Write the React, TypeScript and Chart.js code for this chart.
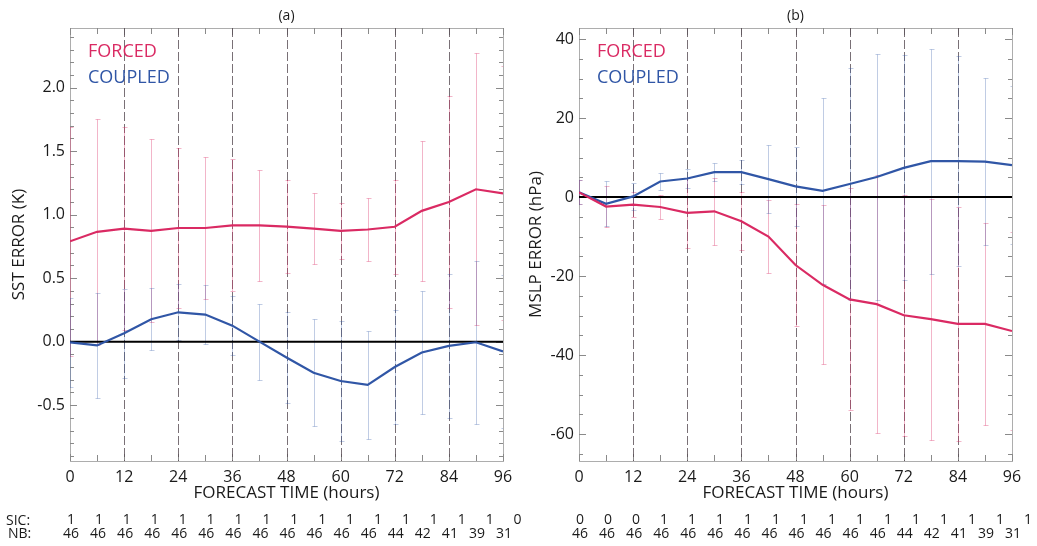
import React, { useEffect, useRef } from 'react';
import { Chart, registerables } from 'chart.js';
Chart.register(...registerables);

// ---------------- data ----------------
const hours = [0, 6, 12, 18, 24, 30, 36, 42, 48, 54, 60, 66, 72, 78, 84, 90, 96];
const xTickValues = [0, 12, 24, 36, 48, 60, 72, 84, 96];
const dashedHours = [12, 24, 36, 48, 60, 72, 84];

const sstTicks = [-0.5, 0, 0.5, 1.0, 1.5, 2.0];
const mslpTicks = [-60, -40, -20, 0, 20, 40];

const sstForced = [0.79, 0.865, 0.89, 0.873, 0.895, 0.895, 0.915, 0.915, 0.905, 0.89, 0.873, 0.883, 0.905, 1.03, 1.1, 1.2, 1.167];
const sstForcedErr = [0.9, 0.89, 0.8, 0.72, 0.63, 0.56, 0.52, 0.44, 0.365, 0.28, 0.22, 0.25, 0.37, 0.55, 0.835, 1.07, 1.0];
const sstCoupled = [-0.005, -0.03, 0.066, 0.176, 0.231, 0.213, 0.126, 0.0, -0.125, -0.245, -0.31, -0.34, -0.2, -0.085, -0.034, -0.005, -0.077];
const sstCoupledErr = [0.35, 0.41, 0.35, 0.245, 0.22, 0.23, 0.235, 0.3, 0.36, 0.42, 0.47, 0.425, 0.45, 0.485, 0.57, 0.64, 0.6];

const mslpForced = [1.2, -2.4, -1.9, -2.5, -4.0, -3.6, -6.1, -10.0, -17.2, -22.2, -25.9, -27.1, -29.9, -30.9, -32.1, -32.1, -33.9];
const mslpForcedErr = [3, 5.1, 3.2, 3.1, 8.8, 8.4, 7.4, 9.3, 15.4, 20.1, 28.1, 32.6, 30.5, 30.5, 29.6, 25.5, 25];
const mslpCoupled = [1.2, -1.7, 0.17, 3.96, 4.7, 6.3, 6.3, 4.55, 2.7, 1.6, 3.3, 5.1, 7.4, 9.1, 9.1, 9.0, 8.1];
const mslpCoupledErr = [3, 5.7, 3.5, 2.2, 2.4, 2.3, 3.1, 8.6, 10, 23.5, 29.4, 31.2, 28.5, 28.5, 26.5, 21.2, 20];

const sicA = [1, 1, 1, 1, 1, 1, 1, 1, 1, 1, 1, 1, 1, 1, 1, 1, 0];
const sicB = [0, 0, 0, 1, 1, 1, 1, 1, 1, 1, 1, 1, 1, 1, 1, 1, 1];
const nbCounts = [46, 46, 46, 46, 46, 46, 46, 46, 46, 46, 46, 46, 44, 42, 41, 39, 31];

// ---------------- styles ----------------
const FONT = "'Open Sans', 'DejaVu Sans', sans-serif";
const FORCED_COLOR = '#DA2A63';
const COUPLED_COLOR = '#3056A6';
const FORCED_ERR = 'rgba(218,42,99,0.35)';
const COUPLED_ERR = 'rgba(48,86,166,0.3)';
const TEXT = '#1a1a1a';

type PanelCfg = {
  title: string;
  yTitle: string;
  yMin: number;
  yMax: number;
  yTicks: number[];
  yMinorStep: number;
  yDecimals: number;
  forced: number[];
  forcedErr: number[];
  coupled: number[];
  coupledErr: number[];
  sic: number[];
  sicDrift: number;
  rowLabels: boolean;
  width: number;
  areaLeft: number;
  areaRight: number;
  yTitlePad: number;
};

function makeDeco(cfg: PanelCfg) {
  return {
    id: 'panelDeco',
    beforeDatasetsDraw(chart: any) {
      const { ctx, chartArea: a, scales } = chart;
      const xs = scales.x;
      const ys = scales.y;
      ctx.save();
      // frame
      ctx.strokeStyle = '#adadad';
      ctx.lineWidth = 1;
      ctx.strokeRect(Math.round(a.left) + 0.5, Math.round(a.top) + 0.5, Math.round(a.right - a.left), Math.round(a.bottom - a.top));
      // x ticks (top & bottom)
      ctx.strokeStyle = '#8a8a8a';
      for (let h = 0; h <= 96; h += 6) {
        const x = Math.round(xs.getPixelForValue(h)) + 0.5;
        const L = h % 12 === 0 ? 7 : 6;
        ctx.beginPath();
        ctx.moveTo(x, a.bottom);
        ctx.lineTo(x, a.bottom - L);
        ctx.moveTo(x, a.top);
        ctx.lineTo(x, a.top + L);
        ctx.stroke();
      }
      // y ticks (left & right), minor and major
      const start = Math.ceil(cfg.yMin / cfg.yMinorStep) * cfg.yMinorStep;
      for (let v = start; v <= cfg.yMax + 1e-9; v += cfg.yMinorStep) {
        const isMajor = cfg.yTicks.some((t) => Math.abs(t - v) < 1e-6);
        const y = Math.round(ys.getPixelForValue(v)) + 0.5;
        const L = isMajor ? 7 : 4;
        ctx.beginPath();
        ctx.moveTo(a.left, y);
        ctx.lineTo(a.left + L, y);
        ctx.moveTo(a.right, y);
        ctx.lineTo(a.right - L, y);
        ctx.stroke();
      }
      ctx.beginPath();
      ctx.rect(a.left, a.top, a.right - a.left, a.bottom - a.top);
      ctx.clip();
      // dashed verticals
      ctx.strokeStyle = 'rgba(88,76,84,0.8)';
      ctx.setLineDash([9, 3]);
      dashedHours.forEach((h) => {
        const x = Math.round(xs.getPixelForValue(h)) + 0.5;
        ctx.beginPath();
        ctx.moveTo(x, a.top);
        ctx.lineTo(x, a.bottom);
        ctx.stroke();
      });
      ctx.setLineDash([]);
      // error bars
      const drawErr = (vals: number[], errs: number[], color: string) => {
        ctx.strokeStyle = color;
        ctx.lineWidth = 1;
        hours.forEach((h, i) => {
          const x = Math.round(xs.getPixelForValue(h)) + 0.5;
          const y1 = Math.round(ys.getPixelForValue(vals[i] + errs[i])) + 0.5;
          const y2 = Math.round(ys.getPixelForValue(vals[i] - errs[i])) + 0.5;
          ctx.beginPath();
          ctx.moveTo(x, y1);
          ctx.lineTo(x, y2);
          ctx.moveTo(x - 2, y1);
          ctx.lineTo(x + 3, y1);
          ctx.moveTo(x - 2, y2);
          ctx.lineTo(x + 3, y2);
          ctx.stroke();
        });
      };
      drawErr(cfg.forced, cfg.forcedErr, FORCED_ERR);
      drawErr(cfg.coupled, cfg.coupledErr, COUPLED_ERR);
      // zero line
      const y0 = ys.getPixelForValue(0);
      ctx.strokeStyle = '#000';
      ctx.lineWidth = 2;
      ctx.beginPath();
      ctx.moveTo(a.left, y0);
      ctx.lineTo(a.right, y0);
      ctx.stroke();
      ctx.restore();
    },
    afterDraw(chart: any) {
      const { ctx, chartArea: a, scales } = chart;
      const xs = scales.x;
      ctx.save();
      // in-plot legend
      ctx.font = `18px ${FONT}`;
      ctx.textAlign = 'left';
      ctx.textBaseline = 'middle';
      ctx.fillStyle = FORCED_COLOR;
      ctx.fillText('FORCED', a.left + 18, a.top + 24);
      ctx.fillStyle = COUPLED_COLOR;
      ctx.fillText('COUPLED', a.left + 18, a.top + 50);
      // SIC / NB rows
      ctx.fillStyle = TEXT;
      ctx.font = `14px ${FONT}`;
      if (cfg.rowLabels) {
        ctx.textAlign = 'left';
        ctx.fillText('SIC:', 6, 521);
        ctx.fillText('NB:', 8, 534);
      }
      ctx.textAlign = 'center';
      hours.forEach((h, i) => {
        const x = xs.getPixelForValue(h);
        ctx.fillText(String(cfg.sic[i]), x + 1 + i * cfg.sicDrift, 520);
        ctx.fillText(String(nbCounts[i]), x + 1, 534);
      });
      ctx.restore();
    },
  };
}

function Panel({ cfg, left }: { cfg: PanelCfg; left: number }) {
  const ref = useRef<HTMLCanvasElement>(null);
  useEffect(() => {
    if (!ref.current) return;
    const chart = new Chart(ref.current, {
      type: 'line',
      data: {
        datasets: [
          {
            label: 'FORCED',
            data: hours.map((h, i) => ({ x: h, y: cfg.forced[i] })),
            borderColor: FORCED_COLOR,
            borderWidth: 2.2,
            pointRadius: 0,
            tension: 0,
          },
          {
            label: 'COUPLED',
            data: hours.map((h, i) => ({ x: h, y: cfg.coupled[i] })),
            borderColor: COUPLED_COLOR,
            borderWidth: 2.2,
            pointRadius: 0,
            tension: 0,
          },
        ],
      },
      options: {
        responsive: false,
        animation: false,
        devicePixelRatio: 1,
        layout: { padding: { left: 0, right: cfg.width - cfg.areaRight, top: 0, bottom: 0 } },
        plugins: {
          legend: { display: false },
          tooltip: { enabled: false },
          title: {
            display: true,
            text: cfg.title,
            fullSize: false,
            color: TEXT,
            font: { family: FONT, size: 14, weight: 'normal' },
            padding: { top: 7.6, bottom: 3.6 },
          },
        },
        scales: {
          x: {
            type: 'linear',
            min: 0,
            max: 96,
            afterBuildTicks: (s: any) => {
              s.ticks = xTickValues.map((v) => ({ value: v }));
            },
            afterFit: (s: any) => {
              s.height = 85;
            },
            grid: { display: false, drawTicks: false },
            border: { display: false },
            ticks: {
              padding: 7,
              color: TEXT,
              font: { family: FONT, size: 16 },
              maxRotation: 0,
              autoSkip: false,
              callback: (v: any) => String(v),
            },
            title: {
              display: true,
              text: 'FORECAST TIME (hours)',
              color: TEXT,
              font: { family: FONT, size: 17 },
              padding: { top: 0, bottom: 42.8 },
            },
          },
          y: {
            type: 'linear',
            min: cfg.yMin,
            max: cfg.yMax,
            afterBuildTicks: (s: any) => {
              s.ticks = cfg.yTicks.map((v) => ({ value: v }));
            },
            afterFit: (s: any) => {
              s.width = cfg.areaLeft;
            },
            grid: { display: false, drawTicks: false },
            border: { display: false },
            ticks: {
              padding: 5,
              color: TEXT,
              font: { family: FONT, size: 16 },
              callback: (v: any) => Number(v).toFixed(cfg.yDecimals),
            },
            title: {
              display: true,
              text: cfg.yTitle,
              color: TEXT,
              font: { family: FONT, size: 17 },
              padding: { top: cfg.yTitlePad, bottom: 0 },
            },
          },
        },
      } as any,
      plugins: [makeDeco(cfg)],
    });
    return () => chart.destroy();
  }, [cfg]);
  return (
    <canvas
      ref={ref}
      width={cfg.width}
      height={546}
      style={{ position: 'absolute', left, top: 0, width: cfg.width, height: 546 }}
    />
  );
}

const panelA: PanelCfg = {
  title: '(a)',
  yTitle: 'SST ERROR (K)',
  yMin: -0.94,
  yMax: 2.47,
  yTicks: sstTicks,
  yMinorStep: 0.1,
  yDecimals: 1,
  forced: sstForced,
  forcedErr: sstForcedErr,
  coupled: sstCoupled,
  coupledErr: sstCoupledErr,
  sic: sicA,
  sicDrift: 0.85,
  rowLabels: true,
  width: 528,
  areaLeft: 70,
  areaRight: 503,
  yTitlePad: 8.8,
};

const panelB: PanelCfg = {
  title: '(b)',
  yTitle: 'MSLP ERROR (hPa)',
  yMin: -66.8,
  yMax: 42.8,
  yTicks: mslpTicks,
  yMinorStep: 5,
  yDecimals: 0,
  forced: mslpForced,
  forcedErr: mslpForcedErr,
  coupled: mslpCoupled,
  coupledErr: mslpCoupledErr,
  sic: sicB,
  sicDrift: 0.93,
  rowLabels: false,
  width: 517,
  areaLeft: 59,
  areaRight: 492,
  yTitlePad: 5.8,
};

export default function App() {
  return (
    <div style={{ position: 'absolute', left: 0, top: 0, width: 1037, height: 546, background: '#fff', overflow: 'hidden' }}>
      <Panel cfg={panelA} left={0} />
      <Panel cfg={panelB} left={520} />
    </div>
  );
}
